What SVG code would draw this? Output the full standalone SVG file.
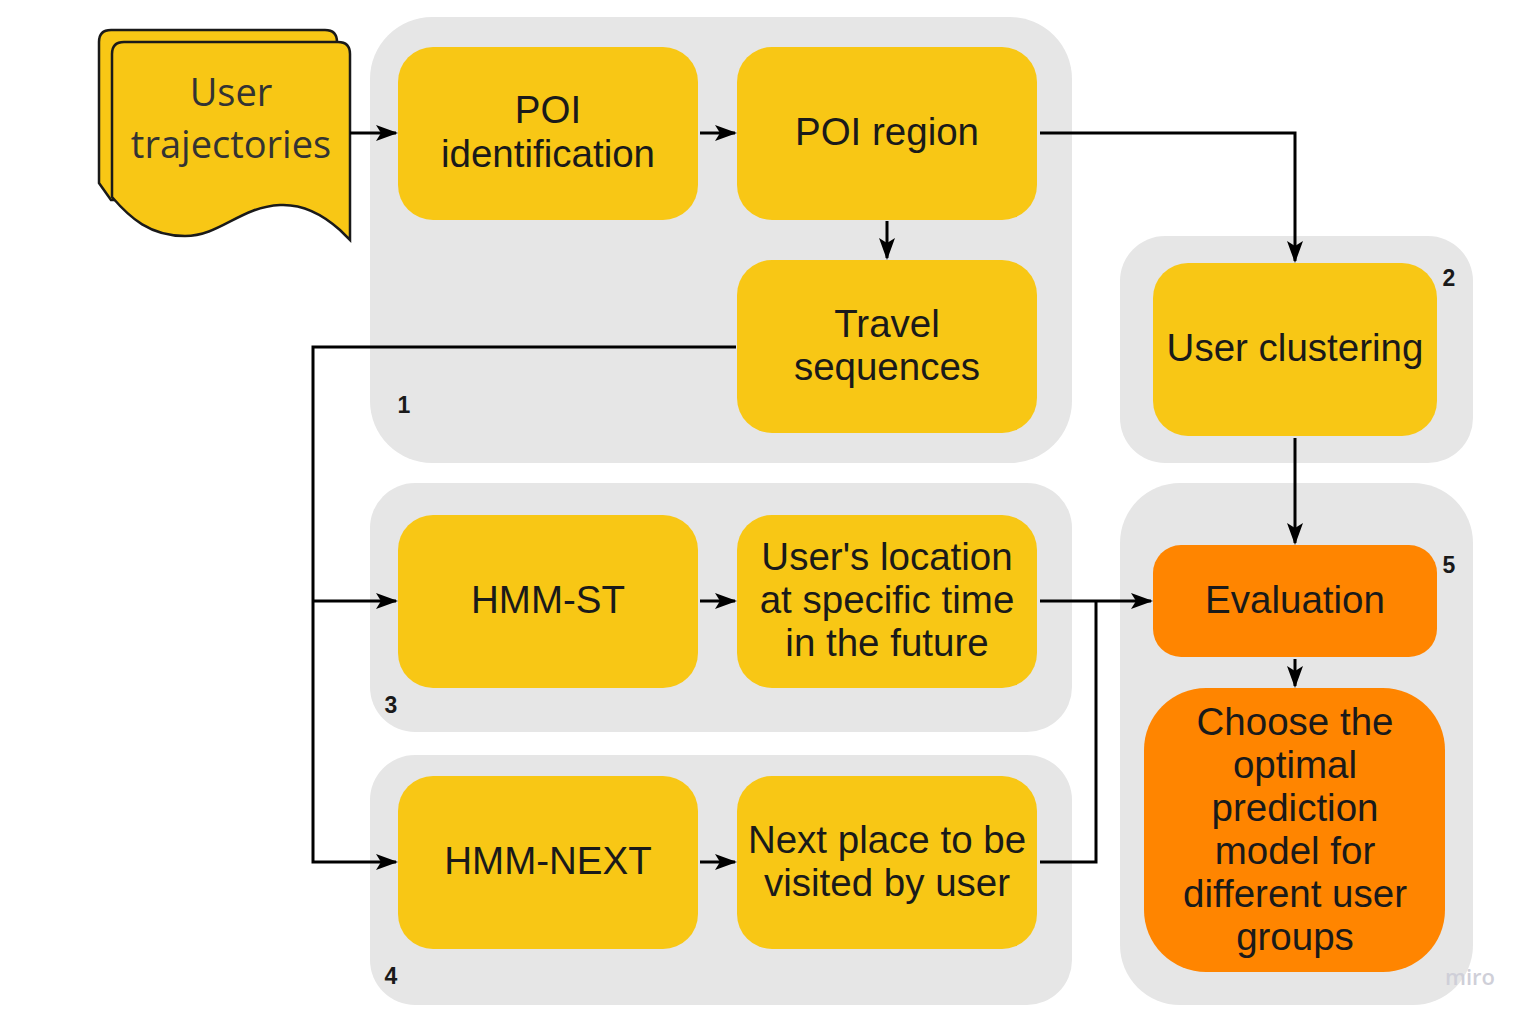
<svg xmlns="http://www.w3.org/2000/svg" width="1530" height="1020" viewBox="0 0 1530 1020">
<style>
.grp{fill:#e6e6e6}
.y{fill:#f8c715}
.o{fill:#ff8500}
.t{font-family:"Liberation Sans",Arial,sans-serif;font-size:38.5px;fill:#1a1a1a;text-anchor:middle}
.n{font-family:"Liberation Sans",Arial,sans-serif;font-size:23px;font-weight:bold;fill:#1a1a1a;text-anchor:middle}
.c{fill:none;stroke:#000;stroke-width:3}
</style>
<defs>
<marker id="a" markerUnits="userSpaceOnUse" markerWidth="22" markerHeight="16" refX="20" refY="8" orient="auto">
<path d="M0,0 L22,8 L0,16 L5,8 Z" fill="#000"/>
</marker>
</defs>
<rect width="1530" height="1020" fill="#fff"/>
<g id="group1"><rect class="grp" x="370" y="17" width="702" height="446" rx="62"/><text class="n" x="404" y="413">1</text></g>
<g id="group2"><rect class="grp" x="1120" y="236" width="353" height="227" rx="45"/><text class="n" x="1449" y="286">2</text></g>
<g id="group3"><rect class="grp" x="370" y="483" width="702" height="249" rx="45"/><text class="n" x="391" y="713">3</text></g>
<g id="group4"><rect class="grp" x="370" y="755" width="702" height="250" rx="45"/><text class="n" x="391" y="984">4</text></g>
<g id="group5"><rect class="grp" x="1120" y="483" width="353" height="522" rx="60"/><text class="n" x="1449" y="573">5</text></g>

<g id="user-trajectories">
<path d="M99,42 Q99,30 111,30 L325,30 Q337,30 337,42 L337,200 L111,200 L99,183 Z" fill="#f8c715" stroke="#1a1a1a" stroke-width="2.5"/>
<path d="M112,54 Q112,42 124,42 L338,42 Q350,42 350,54 L350,240 L340,230 C320,212 300,204 280,205 C240,207 220,236 185,236 C150,236 130,218 112,197 Z" fill="#f8c715" stroke="#1a1a1a" stroke-width="2.5"/>
<text x="231" y="106" font-family="'Open Sans',sans-serif" font-size="38" fill="#333" text-anchor="middle">User</text>
<text x="231" y="158" font-family="'Open Sans',sans-serif" font-size="38" fill="#333" text-anchor="middle">trajectories</text>
</g>

<g id="poi-identification"><rect class="y" x="398" y="47" width="300" height="173" rx="35"/><text class="t" x="548" y="123">POI</text><text class="t" x="548" y="167">identification</text></g>
<g id="poi-region"><rect class="y" x="737" y="47" width="300" height="173" rx="35"/><text class="t" x="887" y="145">POI region</text></g>
<g id="travel-sequences"><rect class="y" x="737" y="260" width="300" height="173" rx="35"/><text class="t" x="887" y="337">Travel</text><text class="t" x="887" y="380">sequences</text></g>
<g id="user-clustering"><rect class="y" x="1153" y="263" width="284" height="173" rx="35"/><text class="t" x="1295" y="361">User clustering</text></g>
<g id="hmm-st"><rect class="y" x="398" y="515" width="300" height="173" rx="35"/><text class="t" x="548" y="613">HMM-ST</text></g>
<g id="users-location"><rect class="y" x="737" y="515" width="300" height="173" rx="35"/><text class="t" x="887" y="570">User's location</text><text class="t" x="887" y="613">at specific time</text><text class="t" x="887" y="656">in the future</text></g>
<g id="hmm-next"><rect class="y" x="398" y="776" width="300" height="173" rx="35"/><text class="t" x="548" y="874">HMM-NEXT</text></g>
<g id="next-place"><rect class="y" x="737" y="776" width="300" height="173" rx="35"/><text class="t" x="887" y="853">Next place to be</text><text class="t" x="887" y="896">visited by user</text></g>
<g id="evaluation"><rect class="o" x="1153" y="545" width="284" height="112" rx="28"/><text class="t" x="1295" y="613">Evaluation</text></g>
<g id="choose"><rect class="o" x="1144" y="688" width="301" height="284" rx="62"/><text class="t" x="1295" y="735">Choose the</text><text class="t" x="1295" y="778">optimal</text><text class="t" x="1295" y="821">prediction</text><text class="t" x="1295" y="864">model for</text><text class="t" x="1295" y="907">different user</text><text class="t" x="1295" y="950">groups</text></g>

<g id="connectors">
<path class="c" d="M350,133 L396,133" marker-end="url(#a)"/>
<path class="c" d="M700,133 L735,133" marker-end="url(#a)"/>
<path class="c" d="M887,221 L887,258" marker-end="url(#a)"/>
<path class="c" d="M1040,133 L1295,133 L1295,261" marker-end="url(#a)"/>
<path class="c" d="M1295,438 L1295,543" marker-end="url(#a)"/>
<path class="c" d="M1295,659 L1295,686" marker-end="url(#a)"/>
<path class="c" d="M736,347 L313,347 L313,862 L396,862" marker-end="url(#a)"/>
<path class="c" d="M313,601 L396,601" marker-end="url(#a)"/>
<path class="c" d="M700,601 L735,601" marker-end="url(#a)"/>
<path class="c" d="M700,862 L735,862" marker-end="url(#a)"/>
<path class="c" d="M1040,601 L1151,601" marker-end="url(#a)"/>
<path class="c" d="M1040,862 L1096,862 L1096,601"/>
</g>
<text x="1470" y="985" font-family="'Open Sans',sans-serif" font-size="22" font-weight="600" fill="#cfcfd8" text-anchor="middle">miro</text>
</svg>
